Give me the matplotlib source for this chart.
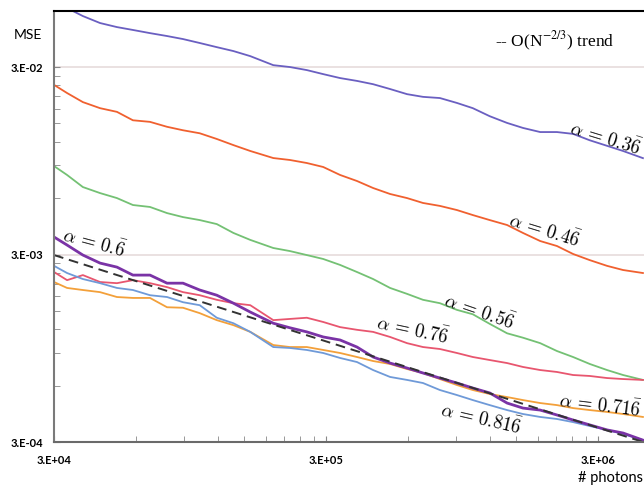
import numpy as np
import matplotlib
matplotlib.use("Agg")
import matplotlib.pyplot as plt
from matplotlib.ticker import FixedLocator, NullFormatter

plt.rcParams['mathtext.fontset'] = 'cm'

# number of photons (shared by all curves)
photons = [3.00e4, 3.35e4, 3.83e4, 4.43e4, 5.11e4, 5.85e4, 6.76e4, 7.81e4, 8.94e4,
           1.03e5, 1.19e5, 1.37e5, 1.58e5, 1.92e5, 2.21e5, 2.55e5, 2.93e5, 3.38e5,
           3.90e5, 4.47e5, 5.16e5, 5.96e5, 6.82e5, 7.87e5, 9.09e5, 1.04e6, 1.20e6,
           1.39e6, 1.59e6, 1.84e6, 2.12e6, 2.43e6, 2.80e6, 3.24e6, 3.71e6, 4.39e6]

mse_036 = [0.0667, 0.0619, 0.0561, 0.0515, 0.0490, 0.0473, 0.0455, 0.0439, 0.0423,
           0.0403, 0.0383, 0.0365, 0.0343, 0.0307, 0.0300, 0.0289, 0.0275, 0.0262,
           0.0253, 0.0243, 0.0229, 0.0215, 0.0208, 0.0205, 0.0193, 0.0181, 0.0164,
           0.0151, 0.0142, 0.0135, 0.0135, 0.0132, 0.0122, 0.0114, 0.0107, 0.0098]

mse_046 = [0.0241, 0.0218, 0.0195, 0.0181, 0.0173, 0.0156, 0.0153, 0.0144, 0.0138,
           0.0133, 0.0124, 0.0115, 0.0107, 0.00981, 0.00958, 0.00923, 0.00879, 0.00797,
           0.00740, 0.00679, 0.00631, 0.00600, 0.00565, 0.00545, 0.00518, 0.00487, 0.00458,
           0.00431, 0.00391, 0.00354, 0.00333, 0.00302, 0.00280, 0.00261, 0.00248, 0.00239]

mse_056 = [8.89e-3, 7.97e-3, 6.87e-3, 6.38e-3, 6.00e-3, 5.51e-3, 5.38e-3, 4.99e-3, 4.75e-3,
           4.58e-3, 4.36e-3, 3.91e-3, 3.59e-3, 3.25e-3, 3.13e-3, 2.98e-3, 2.84e-3, 2.64e-3,
           2.42e-3, 2.22e-3, 1.99e-3, 1.85e-3, 1.72e-3, 1.65e-3, 1.52e-3, 1.44e-3, 1.28e-3,
           1.14e-3, 1.08e-3, 1.01e-3, 9.17e-4, 8.52e-4, 7.82e-4, 7.26e-4, 6.83e-4, 6.43e-4]

mse_06 = [3.72e-3, 3.37e-3, 2.98e-3, 2.70e-3, 2.57e-3, 2.33e-3, 2.33e-3, 2.11e-3, 2.11e-3,
          1.94e-3, 1.82e-3, 1.65e-3, 1.48e-3, 1.29e-3, 1.22e-3, 1.16e-3, 1.09e-3, 1.05e-3,
          9.63e-4, 8.52e-4, 7.91e-4, 7.44e-4, 7.00e-4, 6.58e-4, 6.19e-4, 5.82e-4, 5.48e-4,
          4.84e-4, 4.55e-4, 4.44e-4, 4.18e-4, 3.93e-4, 3.70e-4, 3.48e-4, 3.35e-4, 3.07e-4]

mse_076 = [2.42e-3, 2.19e-3, 2.33e-3, 2.14e-3, 2.11e-3, 2.19e-3, 2.11e-3, 2.01e-3, 1.89e-3,
           1.82e-3, 1.72e-3, 1.65e-3, 1.61e-3, 1.34e-3, 1.36e-3, 1.38e-3, 1.31e-3, 1.23e-3,
           1.19e-3, 1.16e-3, 1.09e-3, 1.01e-3, 9.63e-4, 9.40e-4, 8.95e-4, 8.52e-4, 8.21e-4,
           7.91e-4, 7.54e-4, 7.26e-4, 7.09e-4, 6.83e-4, 6.75e-4, 6.58e-4, 6.50e-4, 6.43e-4]

mse_0716 = [2.14e-3, 1.99e-3, 1.94e-3, 1.89e-3, 1.78e-3, 1.76e-3, 1.76e-3, 1.57e-3, 1.56e-3,
            1.46e-3, 1.34e-3, 1.26e-3, 1.16e-3, 9.87e-4, 9.63e-4, 9.63e-4, 9.29e-4, 8.95e-4,
            8.52e-4, 8.11e-4, 7.82e-4, 7.35e-4, 7.00e-4, 6.50e-4, 6.04e-4, 5.68e-4, 5.41e-4,
            5.21e-4, 5.02e-4, 4.84e-4, 4.72e-4, 4.55e-4, 4.44e-4, 4.34e-4, 4.23e-4, 4.08e-4]

mse_0816 = [2.61e-3, 2.39e-3, 2.22e-3, 2.11e-3, 1.99e-3, 1.94e-3, 1.82e-3, 1.78e-3, 1.67e-3,
            1.61e-3, 1.38e-3, 1.29e-3, 1.16e-3, 9.63e-4, 9.52e-4, 9.29e-4, 8.95e-4, 8.42e-4,
            8.01e-4, 7.26e-4, 6.67e-4, 6.43e-4, 6.19e-4, 5.68e-4, 5.34e-4, 5.02e-4, 4.72e-4,
            4.44e-4, 4.23e-4, 4.08e-4, 3.98e-4, 3.83e-4, 3.65e-4, 3.48e-4, 3.31e-4, 3.07e-4]

# dashed O(N^-2/3) reference
trend_n = [3.0e4, 4.4e6]
trend_mse = [2.98e-3, 3.0e-4]

# (label, x, y, rotation)
labels = [(r'$\alpha\,=\,0.3\bar{6}$', 3.20e6, 1.26e-2, -17),
          (r'$\alpha\,=\,0.4\bar{6}$', 1.91e6, 4.05e-3, -17),
          (r'$\alpha\,=\,0.5\bar{6}$', 1.10e6, 1.50e-3, -19),
          (r'$\alpha\,=\,0.\!\bar{6}$', 4.21e4, 3.50e-3, -15),
          (r'$\alpha\,=\,0.7\bar{6}$', 6.27e5, 1.19e-3, -12),
          (r'$\alpha\,=\,0.71\bar{6}$', 3.05e6, 4.72e-4, -7),
          (r'$\alpha\,=\,0.81\bar{6}$', 1.12e6, 4.03e-4, -13)]

fig = plt.figure(figsize=(6.44, 4.87), dpi=100)
ax = fig.add_axes([0.0839, 0.0924, 0.9161, 0.885])

ax.plot(photons, mse_036, color='#6a5fc1', lw=1.3)
ax.plot(photons, mse_046, color='#f0602f', lw=1.3)
ax.plot(photons, mse_056, color='#74c174', lw=1.3)
ax.plot(photons, mse_076, color='#e8566f', lw=1.3)
ax.plot(photons, mse_0716, color='#f3a03a', lw=1.3)
ax.plot(photons, mse_0816, color='#6f9ad8', lw=1.3)
ax.plot(photons, mse_06, color='#7a33a6', lw=2.0)
ax.plot(trend_n, trend_mse, color='#333333', lw=1.4, ls=(0, (5, 3)))

ax.set_xscale('log')
ax.set_yscale('log')
ax.set_xlim(3e4, 4.43e6)
ax.set_ylim(3e-4, 5.97e-2)

xmaj = [3e4, 3e5, 3e6]
ymaj = [3e-4, 3e-3, 3e-2]
ax.xaxis.set_major_locator(FixedLocator(xmaj))
ax.yaxis.set_major_locator(FixedLocator(ymaj))
ax.xaxis.set_minor_locator(FixedLocator([m * k for m in xmaj for k in range(2, 10)]))
ax.yaxis.set_minor_locator(FixedLocator([m * k for m in ymaj for k in range(2, 10)]))
ax.xaxis.set_minor_formatter(NullFormatter())
ax.yaxis.set_minor_formatter(NullFormatter())
ax.set_xticklabels(['3.E+04', '3.E+05', '3.E+06'], family='Lato', weight='bold', fontsize=8)
ax.set_yticklabels(['3.E-04', '3.E-03', '3.E-02'], family='Lato', weight='bold', fontsize=8)
ax.tick_params(which='both', direction='in', length=4, color='#888888')
ax.tick_params(axis='x', which='major', pad=9)
ax.tick_params(axis='y', which='major', pad=8)

ax.grid(axis='y', which='major', color='#e6dcdc', lw=1.2)
ax.set_axisbelow(True)

ax.spines['right'].set_visible(False)
ax.spines['top'].set_color('black')
ax.spines['top'].set_linewidth(1.5)
ax.spines['left'].set_color('#7a7a7a')
ax.spines['left'].set_linewidth(1.5)
ax.spines['bottom'].set_color('#6a6a6a')
ax.spines['bottom'].set_linewidth(1.5)

for txt, lx, ly, rot in labels:
    ax.text(lx, ly, txt, fontsize=13.5, rotation=rot, ha='center', va='center',
            rotation_mode='anchor')

fig.text(0.768, 0.914, r'-- O(N$^{-2/3}$) trend', family='Liberation Serif',
         math_fontfamily='stix', fontsize=12.5, ha='left', va='center')
fig.text(0.0435, 0.928, 'MSE', family='Lato', fontsize=10, ha='center', va='center')
fig.text(0.998, 0.018, '# photons', family='Lato', fontsize=10.5, ha='right', va='center')

plt.savefig('out.png', dpi=100)
